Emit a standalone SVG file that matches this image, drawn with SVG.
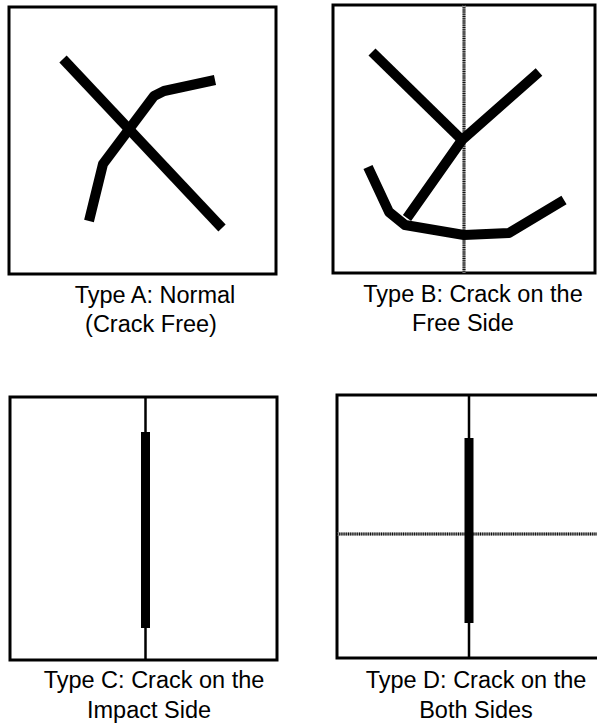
<svg xmlns="http://www.w3.org/2000/svg" width="597" height="728" viewBox="0 0 597 728">
<style>
.box{fill:#fff;stroke:#000;stroke-width:3}
.crack{fill:none;stroke:#000;stroke-width:10;stroke-linejoin:round;stroke-linecap:butt}
.thin{stroke:#000;stroke-width:2.5}
.thick{stroke:#000;stroke-width:9}
.hatchbg{stroke:#999;stroke-width:3}
.hatch{stroke:#111;stroke-width:3;stroke-dasharray:1 1.2}
.lbl{font-family:"Liberation Sans",Arial,sans-serif;font-size:23.5px;fill:#000;text-anchor:middle}
</style>
<rect width="597" height="728" fill="#fff"/>
<g id="typeA">
<rect class="box" x="9" y="7" width="267" height="267"/>
<polyline class="crack" points="63,59 222,228"/>
<polyline class="crack" points="89,221 103,164 154,96 164,91 215,80"/>
<text class="lbl" x="155" y="303">Type A: Normal</text>
<text class="lbl" x="151" y="332">(Crack Free)</text>
</g>
<g id="typeB">
<rect class="box" x="333" y="5" width="262" height="268"/>
<line class="hatchbg" x1="464" y1="5" x2="464" y2="273"/>
<line class="hatch" x1="464" y1="5" x2="464" y2="273"/>
<polyline class="crack" points="372,52 462,140"/>
<polyline class="crack" points="539,72 462,140 407,218"/>
<polyline class="crack" points="368,167 389,212 405,225 464,235 509,233 564,200"/>
<text class="lbl" x="473" y="302">Type B: Crack on the</text>
<text class="lbl" x="463" y="331">Free Side</text>
</g>
<g id="typeC">
<rect class="box" x="10" y="397" width="267" height="263"/>
<line class="thin" x1="145.5" y1="397" x2="145.5" y2="660"/>
<line class="thick" x1="145.5" y1="432" x2="145.5" y2="628"/>
<text class="lbl" x="154" y="688">Type C: Crack on the</text>
<text class="lbl" x="149" y="718">Impact Side</text>
</g>
<g id="typeD">
<rect class="box" x="337" y="395" width="270" height="263"/>
<line class="hatchbg" x1="337" y1="534" x2="597" y2="534"/>
<line class="hatch" x1="337" y1="534" x2="597" y2="534"/>
<line class="thin" x1="469" y1="395" x2="469" y2="658"/>
<line class="thick" x1="469" y1="438" x2="469" y2="623"/>
<text class="lbl" x="476" y="688">Type D: Crack on the</text>
<text class="lbl" x="476" y="718">Both Sides</text>
</g>
</svg>
